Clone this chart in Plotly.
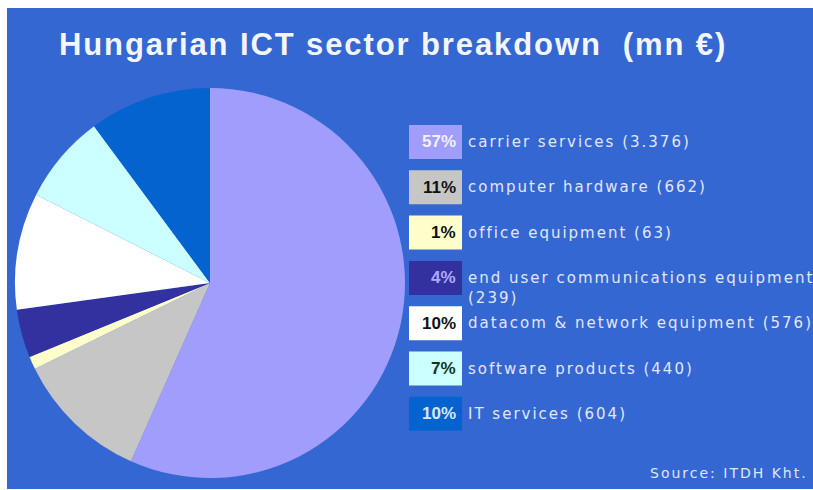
import plotly.graph_objects as go

W, H = 813, 490

categories = ["carrier services", "computer hardware", "office equipment",
              "end user communications equipment", "datacom & network equipment",
              "software products", "IT services"]
values = [3376, 662, 63, 239, 576, 440, 604]
pct_labels = ["57%", "11%", "1%", "4%", "10%", "7%", "10%"]
colors = ["#a09dfd", "#c6c6c6", "#ffffcc", "#3330a0", "#ffffff", "#ccffff", "#0563cf"]
pct_text_colors = ["#f2f2ff", "#111111", "#111111", "#b0aaff", "#111111", "#113322", "#d8e6ff"]

title_text = "Hungarian ICT sector breakdown  (mn €)"
source_text = "Source: ITDH Kht."

BG = "#3567d2"


def px(x):
    return x / W


def py(y):
    return 1 - y / H


fig = go.Figure()

# pie: center (210, 283), radius 195
cx, cy, r = 210, 283, 195
fig.add_trace(go.Pie(
    labels=categories, values=values,
    marker=dict(colors=colors, line=dict(width=0)),
    sort=False, direction="clockwise", rotation=0,
    textinfo="none", hoverinfo="label+value+percent",
    showlegend=False,
    domain=dict(x=[px(cx - r), px(cx + r)], y=[py(cy + r), py(cy - r)]),
))

shapes = [dict(type="rect", xref="paper", yref="paper",
               x0=px(7), x1=px(813), y0=py(489), y1=py(8),
               fillcolor=BG, line=dict(width=0), layer="below")]
annotations = [
    dict(text=f"<b>{title_text}</b>", x=px(57), y=py(45), xref="paper", yref="paper",
         xanchor="left", yanchor="middle", align="left", showarrow=False,
         font=dict(family="Liberation Sans", size=31, color="#f4f6ff")),
    dict(text=source_text, x=px(648), y=py(473), xref="paper", yref="paper",
         xanchor="left", yanchor="middle", align="left", showarrow=False,
         font=dict(family="DejaVu Sans", size=14, color="#dfe6f8")),
]

y_start, step = 142, 45.3
for i, (cat, val, pct) in enumerate(zip(categories, values, pct_labels)):
    yc = y_start + i * step
    shapes.append(dict(type="rect", xref="paper", yref="paper",
                       x0=px(409), x1=px(462), y0=py(yc + 17), y1=py(yc - 17),
                       fillcolor=colors[i], line=dict(width=0)))
    annotations.append(dict(text=f"<b>{pct}</b>", x=px(458), y=py(yc), xref="paper", yref="paper",
                            xanchor="right", yanchor="middle", showarrow=False,
                            font=dict(family="Liberation Sans", size=17, color=pct_text_colors[i])))
    vs = f"{val:,}".replace(",", ".")
    label = f"{cat} ({vs})"
    wrapped = len(label) > 36
    if wrapped:
        label = f"{cat}<br>({vs})"
    annotations.append(dict(text=label, x=px(466), y=py(yc + (10 if wrapped else 0)),
                            xref="paper", yref="paper",
                            xanchor="left", yanchor="middle", align="left", showarrow=False,
                            font=dict(family="DejaVu Sans", size=15, color="#e2e6f6")))

fig.update_layout(
    width=W, height=H, margin=dict(l=0, r=0, t=0, b=0),
    paper_bgcolor="white", plot_bgcolor="white",
    shapes=shapes, annotations=annotations,
)

post = """
document.body.style.margin = '0';
document.body.style.overflow = 'hidden';
function fixSpacing() {
  document.querySelectorAll('.annotation-text').forEach(function (t) {
    var fs = t.style.fontSize;
    if (fs === '15px' || fs === '14px') { t.style.letterSpacing = '2px'; }
    else if (fs === '31px') { t.style.letterSpacing = '1.9px'; }
  });
}
fixSpacing();
var gd = document.getElementById('{plot_id}');
if (gd && gd.on) { gd.on('plotly_afterplot', fixSpacing); }
setTimeout(fixSpacing, 50);
"""

fig.write_html("out.html", post_script=post, config={"displayModeBar": False})
